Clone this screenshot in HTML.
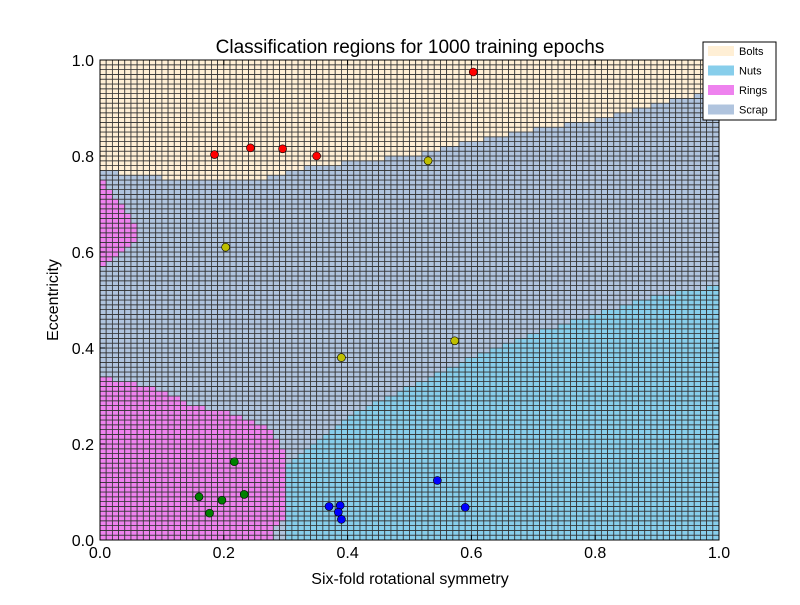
<!DOCTYPE html>
<html><head><meta charset="utf-8"><style>
body{margin:0;background:#fff;font-family:"Liberation Sans","DejaVu Sans",sans-serif}
</style></head><body>
<svg id="chart" width="800" height="600" xmlns="http://www.w3.org/2000/svg" font-family="Liberation Sans, DejaVu Sans, sans-serif">
<rect width="800" height="600" fill="#fff"/>
<g id="mesh"></g>
<g id="pts"></g>
<rect x="100" y="60" width="619" height="480" fill="none" stroke="#000" stroke-width="1"/>
<g id="axes"></g>
<text x="410" y="53" font-size="19" text-anchor="middle">Classification regions for 1000 training epochs</text>
<text x="410" y="584" font-size="16" text-anchor="middle">Six-fold rotational symmetry</text>
<text transform="translate(58,300) rotate(-90)" font-size="16" text-anchor="middle">Eccentricity</text>
<g>
<rect x="703" y="42" width="73" height="78" fill="#fff" stroke="#000"/>
<g id="leg"></g>
</g>
</svg>
<script>
const classNames=["Bolts","Nuts","Rings","Scrap"];
const classColors=["#ffefd5","#87ceeb","#ee82ee","#b0c4de"];
const boltsX=[0,0.1,0.25,0.35,0.5,0.6,0.7,0.8,0.9,1.0];
const boltsY=[0.77,0.755,0.75,0.78,0.80,0.83,0.855,0.875,0.91,0.935];
const nutsX=[0.30,0.305,0.33,0.36,0.4,0.5,0.6,0.7,0.8,0.9,1.0];
const nutsY=[-1,0.16,0.19,0.21,0.26,0.32,0.38,0.43,0.47,0.51,0.53];
const ringTopX=[0,0.05,0.1,0.15,0.2,0.24,0.28,0.31];
const ringTopY=[0.34,0.33,0.31,0.28,0.27,0.25,0.23,0.2];
const ringRightY=[0,0.03,0.05,0.15,0.2,0.23,0.25,0.35];
const ringRightX=[0.278,0.278,0.306,0.306,0.291,0.278,0.245,0.2];
const ringUpY=[0.56,0.60,0.63,0.67,0.72,0.76];
const ringUpX=[0.0,0.04,0.065,0.05,0.02,0.0];
const ptX=[0.185,0.243,0.295,0.35,0.603,0.203,0.53,0.39,0.573,0.217,0.16,0.197,0.233,0.177,0.37,0.388,0.385,0.39,0.545,0.59];
const ptY=[0.803,0.817,0.815,0.80,0.975,0.61,0.79,0.38,0.415,0.163,0.09,0.083,0.095,0.056,0.07,0.072,0.058,0.043,0.124,0.068];
const ptC=["r","r","r","r","r","y","y","y","y","g","g","g","g","g","b","b","b","b","b","b"];
const ptColor={r:"#ff0000",y:"#bfbf00",g:"#008000",b:"#0000ff"};
const xTicks=[0,0.2,0.4,0.6,0.8,1.0];
const yTicks=[0,0.2,0.4,0.6,0.8,1.0];
const xTickLabels=["0.0","0.2","0.4","0.6","0.8","1.0"];
const yTickLabels=["0.0","0.2","0.4","0.6","0.8","1.0"];
const L=100,R=719,T=60,B=540;
const sx=v=>L+v*(R-L), sy=v=>B-v*(B-T);
function interp(xs,ys,x){if(x<=xs[0])return ys[0];for(let i=1;i<xs.length;i++){if(x<=xs[i]){const t=(x-xs[i-1])/(xs[i]-xs[i-1]);return ys[i-1]+t*(ys[i]-ys[i-1]);}}return ys[ys.length-1];}
function cls(x,y){
 if(y>interp(boltsX,boltsY,x))return 0;
 if(y>=ringUpY[0]&&y<=ringUpY[ringUpY.length-1]&&x<interp(ringUpY,ringUpX,y))return 2;
 if(x>=nutsX[1]&&y<interp(nutsX,nutsY,x))return 1;
 if(x<=ringTopX[ringTopX.length-1]&&y<interp(ringTopX,ringTopY,x)&&x<interp(ringRightY,ringRightX,y))return 2;
 return 3;}
const NS="http://www.w3.org/2000/svg";
const mesh=document.getElementById('mesh');
const N=100,cw=(R-L)/N,ch=(B-T)/N;
for(let i=0;i<N;i++)for(let j=0;j<N;j++){
 const x=(i+0.5)/N,y=(j+0.5)/N;
 const r=document.createElementNS(NS,'rect');
 
 
 r.setAttribute('x',(L+i*cw).toFixed(2));r.setAttribute('y',(B-(j+1)*ch).toFixed(2));
 r.setAttribute('width',cw.toFixed(2));r.setAttribute('height',ch.toFixed(2));
 r.setAttribute('fill',classColors[cls(x,y)]);r.setAttribute('stroke','#333');r.setAttribute('stroke-width','0.8');
 mesh.appendChild(r);}
const pts=document.getElementById('pts');
for(let k=0;k<ptX.length;k++){
 const c=document.createElementNS(NS,'circle');
 
 
 c.setAttribute('cx',sx(ptX[k]));c.setAttribute('cy',sy(ptY[k]));c.setAttribute('r',4);
 c.setAttribute('fill',ptColor[ptC[k]]);c.setAttribute('stroke','#000');c.setAttribute('stroke-width','0.6');
 pts.appendChild(c);}
const ax=document.getElementById('axes');
function add(tag,attrs,txt){const e=document.createElementNS(NS,tag);for(const k in attrs)e.setAttribute(k,attrs[k]);if(txt!==undefined)e.textContent=txt;ax.appendChild(e);return e;}
xTicks.forEach((v,i)=>{
 const t1=add('line',{x1:sx(v),x2:sx(v),y1:B,y2:B-5,stroke:'#000'});
 const t2=add('line',{x1:sx(v),x2:sx(v),y1:T,y2:T+5,stroke:'#000'});
 const l=add('text',{x:sx(v),y:558,'font-size':16,'text-anchor':'middle'},xTickLabels[i]);});
yTicks.forEach((v,i)=>{
 const t1=add('line',{x1:L,x2:L+5,y1:sy(v),y2:sy(v),stroke:'#000'});
 const t2=add('line',{x1:R,x2:R-5,y1:sy(v),y2:sy(v),stroke:'#000'});
 const l=add('text',{x:94,y:sy(v)+6,'font-size':16,'text-anchor':'end'},yTickLabels[i]);});
const leg=document.getElementById('leg');
classNames.forEach((n,i)=>{
 const y=51+i*19.5;
 const r=document.createElementNS(NS,'rect');
 
 
 r.setAttribute('x',708);r.setAttribute('y',y-5);r.setAttribute('width',26);r.setAttribute('height',10);r.setAttribute('fill',classColors[i]);
 leg.appendChild(r);
 const t=document.createElementNS(NS,'text');
 
 
 t.setAttribute('x',739);t.setAttribute('y',y+4);t.setAttribute('font-size',11);t.textContent=n;
 leg.appendChild(t);});
</script>
</body></html>
